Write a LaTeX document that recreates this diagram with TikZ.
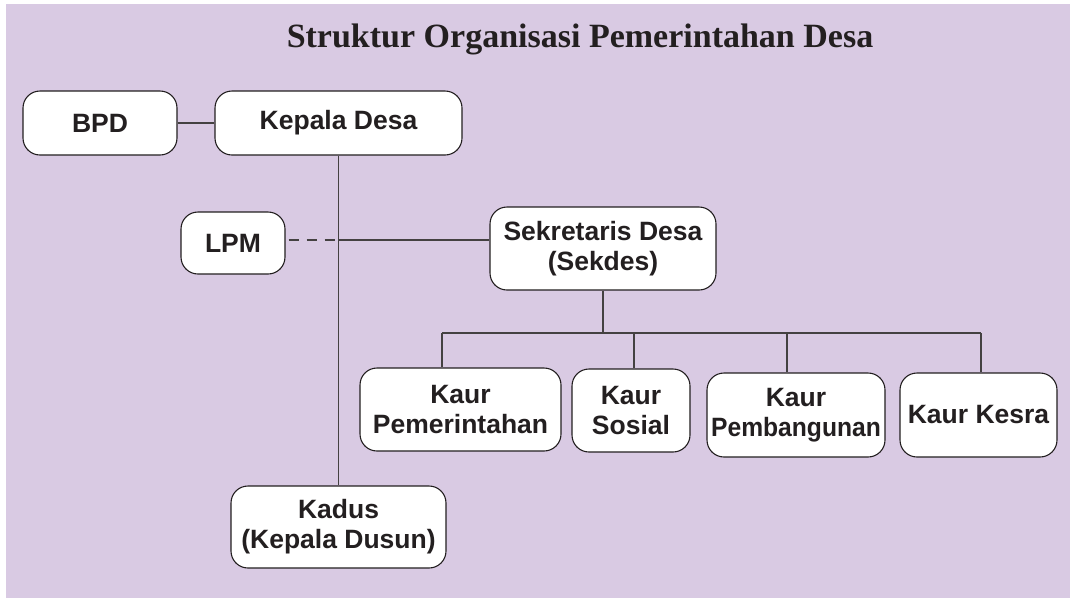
\documentclass[tikz,border=0pt]{standalone}
\usepackage{fontspec}
\setmainfont{Liberation Sans}
\newfontfamily\titlefont{Liberation Serif}
\definecolor{lavender}{HTML}{D9CAE3}
\definecolor{inkgray}{HTML}{231F20}

\begin{document}
\begin{tikzpicture}[x=1pt, y=-1pt,
  unit/.style={draw=inkgray, line width=1.1pt, fill=white, rounded corners=17pt,
    align=center, inner sep=0pt, text=inkgray,
    font=\bfseries\fontsize{26.5}{30}\selectfont},
  link/.style={draw=inkgray!85, line width=1.3pt}]
\useasboundingbox (0,0) rectangle (1071,598);
\fill [lavender] (6,4) rectangle (1070,598);
\node [anchor=base, text=inkgray, font=\titlefont\bfseries\fontsize{34}{40}\selectfont] (title) at (580,47) {Struktur Organisasi Pemerintahan Desa};
% top row
\node [unit, minimum width=154pt, minimum height=64pt] (bpd) at (100,123) {BPD};
\node [unit, minimum width=247pt, minimum height=64pt] (kepala) at (338.5,123) {Kepala Desa};
\node [unit, minimum width=104pt, minimum height=62pt] (lpm) at (233,243) {LPM};
\node [unit, minimum width=226pt, minimum height=83pt] (sekdes) at (603,248.5) {Sekretaris Desa\\(Sekdes)};
% kaur row
\node [unit, minimum width=201pt, minimum height=83pt] (kpem) at (460.5,409.5) {Kaur\\Pemerintahan};
\node [unit, minimum width=118pt, minimum height=83pt] (ksos) at (631,410.5) {Kaur\\Sosial};
\node [unit, minimum width=178pt, minimum height=84pt] (kpemb) at (796,415) {Kaur\\\scalebox{0.93}[1]{Pembangunan}};
\node [unit, minimum width=157pt, minimum height=84pt] (kkesra) at (978.5,415) {Kaur Kesra};
\node [unit, minimum width=215pt, minimum height=82pt] (kadus) at (338.5,527) {Kadus\\(Kepala Dusun)};
% connectors
\coordinate (join) at (338.5,240);
\coordinate (barA) at (442,333);
\coordinate (barB) at (634,333);
\coordinate (barC) at (787,333);
\coordinate (barD) at (981,333);
\draw [link] (bpd) -- (kepala);
\draw [link] (kepala.south) -- (kadus.north);
\draw [link, dash pattern=on 10pt off 8pt, dash phase=-3pt] (lpm.east |- join) -- (join);
\draw [link] (join) -- (join -| sekdes.west);
\draw [link] (sekdes.south) -- (sekdes.south |- barA);
\draw [link] (barA) -- (barD);
\draw [link] (barA) -- (barA |- kpem.north);
\draw [link] (barB) -- (barB |- ksos.north);
\draw [link] (barC) -- (barC |- kpemb.north);
\draw [link] (barD) -- (barD |- kkesra.north);
\end{tikzpicture}
\end{document}
